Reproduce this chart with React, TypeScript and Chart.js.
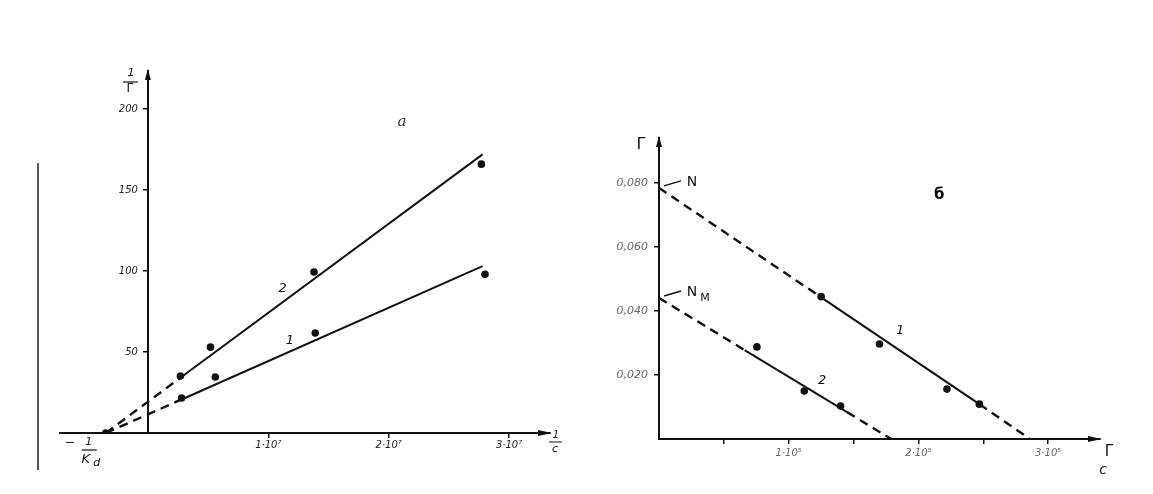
import React, { useEffect, useRef } from "react";
import { Chart, registerables } from "chart.js";
Chart.register(...registerables);

// ---------- Panel a (1/Γ vs 1/c) ----------
const kdPointA = [{ x: -0.35, y: 0 }];
const seriesA1 = [
  { x: 0.28, y: 21.6 },
  { x: 0.56, y: 34.6 },
  { x: 1.39, y: 61.7 },
  { x: 2.8, y: 98 },
];
const seriesA2 = [
  { x: 0.27, y: 35.2 },
  { x: 0.52, y: 53 },
  { x: 1.38, y: 99.4 },
  { x: 2.77, y: 166 },
];
const fitA1Dashed = [{ x: -0.35, y: 0 }, { x: 0.28, y: 20.7 }];
const fitA1Solid = [{ x: 0.28, y: 20.7 }, { x: 2.78, y: 103 }];
const fitA2Dashed = [{ x: -0.35, y: 0 }, { x: 0.27, y: 34.1 }];
const fitA2Solid = [{ x: 0.27, y: 34.1 }, { x: 2.78, y: 172 }];
const yTicksA = [50, 100, 150, 200];
const yTickLabelsA = ["50", "100", "150", "200"];
const xTicksA = [1, 2, 3];
const xTickLabelsA = ["1·10⁷", "2·10⁷", "3·10⁷"];
const curveLabelsA = [
  { text: "2", x: 1.12, y: 89 },
  { text: "1", x: 1.18, y: 57 },
];
const panelLabelA = { text: "a", x: 2.11, y: 192 };

// ---------- Panel б (Γ vs Γ/c) ----------
const seriesB1 = [
  { x: 1.25, y: 0.0445 },
  { x: 1.7, y: 0.0297 },
  { x: 2.22, y: 0.0156 },
  { x: 2.47, y: 0.0109 },
];
const seriesB2 = [
  { x: 0.755, y: 0.0288 },
  { x: 1.12, y: 0.015 },
  { x: 1.4, y: 0.0103 },
];
const fitB1DashedStart = [{ x: 0, y: 0.0785 }, { x: 1.25, y: 0.0443 }];
const fitB1Solid = [{ x: 1.25, y: 0.0443 }, { x: 2.47, y: 0.0109 }];
const fitB1DashedEnd = [{ x: 2.47, y: 0.0109 }, { x: 2.86, y: 0 }];
const fitB2DashedStart = [{ x: 0, y: 0.0441 }, { x: 0.66, y: 0.0278 }];
const fitB2Solid = [{ x: 0.66, y: 0.0278 }, { x: 1.45, y: 0.0084 }];
const fitB2DashedEnd = [{ x: 1.45, y: 0.0084 }, { x: 1.79, y: 0 }];
const yTicksB = [0.02, 0.04, 0.06, 0.08];
const yTickLabelsB = ["0,020", "0,040", "0,060", "0,080"];
const xTicksB = [0.5, 1, 1.5, 2, 2.5, 3];
const xTickLabelsB = ["", "1·10⁵", "", "2·10⁵", "", "3·10⁵"];
const curveLabelsB = [
  { text: "1", x: 1.86, y: 0.0338 },
  { text: "2", x: 1.257, y: 0.0184 },
];
const panelLabelB = { text: "б", x: 2.16, y: 0.0762 };
const interceptLabelsB = [
  { text: "N", sub: "", y: 0.0785 },
  { text: "N", sub: "M", y: 0.0441 },
];

const INK = "#111";

const lineDs = (data: any[], dashed: boolean) => ({
  data,
  showLine: true,
  borderColor: INK,
  borderWidth: dashed ? 2.4 : 2,
  borderDash: dashed ? [9, 6] : [],
  pointRadius: 0,
  fill: false,
  tension: 0,
});
const ptDs = (data: any[]) => ({
  data,
  showLine: false,
  pointRadius: 3.8,
  pointBackgroundColor: INK,
  pointBorderColor: INK,
  pointBorderWidth: 0,
});

function arrowUp(ctx: CanvasRenderingContext2D, x: number, y: number) {
  ctx.beginPath();
  ctx.moveTo(x, y - 2);
  ctx.lineTo(x - 3, y + 9);
  ctx.lineTo(x + 3, y + 9);
  ctx.closePath();
  ctx.fill();
}
function arrowRight(ctx: CanvasRenderingContext2D, x: number, y: number) {
  ctx.beginPath();
  ctx.moveTo(x + 2, y);
  ctx.lineTo(x - 12, y - 3);
  ctx.lineTo(x - 12, y + 3);
  ctx.closePath();
  ctx.fill();
}
function txt(ctx: CanvasRenderingContext2D, s: string, x: number, y: number, font: string) {
  ctx.font = font;
  ctx.textAlign = "center";
  ctx.textBaseline = "middle";
  ctx.fillText(s, x, y);
}
function hline(ctx: CanvasRenderingContext2D, x1: number, x2: number, y: number, w = 1.2) {
  ctx.lineWidth = w;
  ctx.beginPath();
  ctx.moveTo(x1, y);
  ctx.lineTo(x2, y);
  ctx.stroke();
}

const ITAL = "italic 13px 'DejaVu Sans'";

const decoA = {
  id: "decoA",
  afterDraw(chart: any) {
    const ctx: CanvasRenderingContext2D = chart.ctx;
    const xs = chart.scales.x;
    const ys = chart.scales.y;
    const x0 = xs.getPixelForValue(0);
    const y0 = ys.getPixelForValue(0);
    const { top, right } = chart.chartArea;
    ctx.save();
    ctx.fillStyle = INK;
    ctx.strokeStyle = INK;
    arrowUp(ctx, x0, top);
    arrowRight(ctx, right, y0);
    // y-axis title 1/Γ
    txt(ctx, "1", x0 - 17, top + 2, "italic 11px 'DejaVu Sans'");
    hline(ctx, x0 - 25, x0 - 10, top + 11);
    txt(ctx, "Γ", x0 - 18, top + 18, "12px 'DejaVu Sans'");
    // x-axis title 1/c
    txt(ctx, "1", right + 6, y0 + 2, "italic 10px 'DejaVu Sans'");
    hline(ctx, right - 1, right + 12, y0 + 9, 1);
    txt(ctx, "c", right + 5, y0 + 16, "italic 11px 'DejaVu Sans'");
    // -1/K_d
    const xk = xs.getPixelForValue(kdPointA[0].x);
    txt(ctx, "−", xk - 36, y0 + 10, "12px 'DejaVu Sans'");
    txt(ctx, "1", xk - 17, y0 + 9, "italic 11px 'DejaVu Sans'");
    hline(ctx, xk - 24, xk - 9, y0 + 17);
    txt(ctx, "K", xk - 20, y0 + 27, "italic 13px 'DejaVu Sans'");
    txt(ctx, "d", xk - 9, y0 + 30, "italic 11px 'DejaVu Sans'");
    // curve labels
    for (const l of curveLabelsA) {
      txt(ctx, l.text, xs.getPixelForValue(l.x), ys.getPixelForValue(l.y), ITAL);
    }
    ctx.fillStyle = "#333";
    txt(ctx, panelLabelA.text, xs.getPixelForValue(panelLabelA.x), ys.getPixelForValue(panelLabelA.y), "italic 15px 'DejaVu Serif'");
    // scan edge line at far left
    ctx.strokeStyle = "#555";
    ctx.lineWidth = 2;
    ctx.beginPath();
    ctx.moveTo(38, 163);
    ctx.lineTo(38, 470);
    ctx.stroke();
    ctx.restore();
  },
};

const decoB = {
  id: "decoB",
  afterDraw(chart: any) {
    const ctx: CanvasRenderingContext2D = chart.ctx;
    const xs = chart.scales.x;
    const ys = chart.scales.y;
    const x0 = xs.getPixelForValue(0);
    const y0 = ys.getPixelForValue(0);
    const { top, right } = chart.chartArea;
    ctx.save();
    ctx.fillStyle = INK;
    ctx.strokeStyle = INK;
    arrowUp(ctx, x0, top);
    arrowRight(ctx, right, y0);
    txt(ctx, "Γ", x0 - 18, top + 7, "16px 'DejaVu Sans'");
    // x-axis title Γ over c
    txt(ctx, "Γ", right + 9, y0 + 13, "15px 'DejaVu Sans'");
    txt(ctx, "c", right + 3, y0 + 31, "italic 14px 'DejaVu Sans'");
    // intercept labels N, N_M
    for (const l of interceptLabelsB) {
      const yp = ys.getPixelForValue(l.y);
      ctx.lineWidth = 1.5;
      ctx.beginPath();
      ctx.moveTo(x0 + 5, yp - 2);
      ctx.lineTo(x0 + 22, yp - 7);
      ctx.stroke();
      txt(ctx, l.text, x0 + 33, yp - 6, "14px 'DejaVu Sans'");
      if (l.sub) txt(ctx, l.sub, x0 + 46, yp, "11px 'DejaVu Sans'");
    }
    for (const l of curveLabelsB) {
      txt(ctx, l.text, xs.getPixelForValue(l.x), ys.getPixelForValue(l.y), ITAL);
    }
    txt(ctx, panelLabelB.text, xs.getPixelForValue(panelLabelB.x), ys.getPixelForValue(panelLabelB.y), "bold 15px 'DejaVu Sans'");
    ctx.restore();
  },
};

const GAP = "\u2002\u2002";

function makeConfig(
  datasets: any[],
  xr: [number, number],
  yr: [number, number],
  xt: number[],
  xl: string[],
  yt: number[],
  yl: string[],
  padding: any,
  labelColor: string,
  plugin: any,
  xPad: number,
  xSize: number,
  ySize: number
): any {
  return {
    type: "scatter",
    data: { datasets },
    options: {
      responsive: false,
      animation: false,
      events: [],
      layout: { padding },
      plugins: { legend: { display: false }, tooltip: { enabled: false }, title: { display: false } },
      scales: {
        x: {
          type: "linear",
          min: xr[0],
          max: xr[1],
          position: { y: 0 },
          afterBuildTicks: (s: any) => {
            s.ticks = xt.map((v) => ({ value: v }));
          },
          ticks: {
            callback: (_v: any, i: number) => xl[i] ?? "",
            autoSkip: false,
            maxRotation: 0,
            font: { family: "'DejaVu Sans'", size: xSize, style: "italic" },
            color: labelColor,
            padding: xPad,
          },
          grid: { drawOnChartArea: false, drawTicks: true, tickLength: 4, color: INK, lineWidth: 1.5 },
          border: { display: true, color: INK, width: 2 },
        },
        y: {
          type: "linear",
          min: yr[0],
          max: yr[1],
          position: { x: 0 },
          afterBuildTicks: (s: any) => {
            s.ticks = yt.map((v) => ({ value: v }));
          },
          ticks: {
            callback: (_v: any, i: number) => (yl[i] ?? "") + GAP,
            autoSkip: false,
            font: { family: "'DejaVu Sans'", size: ySize, style: "italic" },
            color: labelColor,
          },
          grid: { drawOnChartArea: false, drawTicks: true, tickLength: 4, color: INK, lineWidth: 1.5 },
          border: { display: true, color: INK, width: 2 },
        },
      },
    },
    plugins: [plugin],
  };
}

export default function App() {
  const refA = useRef<HTMLCanvasElement>(null);
  const refB = useRef<HTMLCanvasElement>(null);
  useEffect(() => {
    const cfgA = makeConfig(
      [
        ptDs(seriesA1),
        ptDs(seriesA2),
        ptDs(kdPointA),
        lineDs(fitA1Dashed, true),
        lineDs(fitA1Solid, false),
        lineDs(fitA2Dashed, true),
        lineDs(fitA2Solid, false),
      ],
      [-0.73, 3.34],
      [0, 223.5],
      xTicksA,
      xTickLabelsA,
      yTicksA,
      yTickLabelsA,
      { left: 60, right: 30, top: 71, bottom: 61 },
      "#222",
      decoA,
      2,
      10,
      10
    );
    const cfgB = makeConfig(
      [
        ptDs(seriesB1),
        ptDs(seriesB2),
        lineDs(fitB1DashedStart, true),
        lineDs(fitB1Solid, false),
        lineDs(fitB1DashedEnd, true),
        lineDs(fitB2DashedStart, true),
        lineDs(fitB2Solid, false),
        lineDs(fitB2DashedEnd, true),
      ],
      [0, 3.4],
      [0, 0.0941],
      xTicksB,
      xTickLabelsB,
      yTicksB,
      yTickLabelsB,
      { left: 79, right: 53, top: 138, bottom: 55 },
      "#666",
      decoB,
      4,
      10,
      11
    );
    const a = new Chart(refA.current as HTMLCanvasElement, cfgA);
    const b = new Chart(refB.current as HTMLCanvasElement, cfgB);
    return () => {
      a.destroy();
      b.destroy();
    };
  }, []);
  return (
    <div style={{ position: "fixed", left: 0, top: 0, width: 1153, height: 494, background: "#fff" }}>
      <canvas
        ref={refA}
        width={580}
        height={494}
        style={{ position: "absolute", left: 0, top: 0, width: 580, height: 494 }}
      />
      <canvas
        ref={refB}
        width={573}
        height={494}
        style={{ position: "absolute", left: 580, top: 0, width: 573, height: 494 }}
      />
    </div>
  );
}
